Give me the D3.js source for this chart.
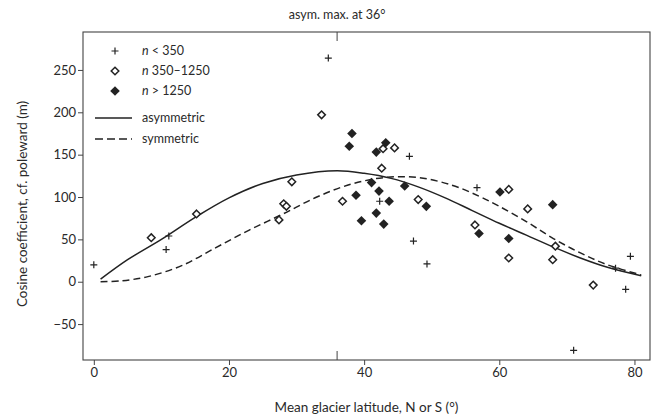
<!DOCTYPE html>
<html>
<head>
<meta charset="utf-8">
<script src="https://cdn.jsdelivr.net/npm/d3@7"></script>
<style>
  body { margin: 0; background: #fff; }
  svg text { font-family: Lato, "Open Sans", sans-serif; fill: #2a2a2a; }
</style>
</head>
<body>
<div id="chart"></div>
<script>
// Data: [latitude, coefficient]
var smallGlaciers = [
    [0, 20], [10.7, 38], [11.1, 54], [34.7, 264], [42.3, 95], [46.7, 148],
    [47.3, 48], [49.3, 21], [56.7, 111], [71, -81], [77.2, 16], [78.7, -9], [79.4, 30]
];
var mediumGlaciers = [
    [8.5, 52], [15.2, 80], [27.4, 73], [28.1, 92], [28.5, 89], [29.3, 118],
    [33.7, 197], [36.8, 95], [42.6, 134], [42.8, 157], [44.5, 158], [48, 97],
    [56.4, 67], [61.4, 109], [61.4, 28], [64.2, 86], [67.9, 26], [68.3, 42], [73.9, -4]
];
var largeGlaciers = [
    [38.2, 175], [37.8, 160], [43.2, 164], [41.8, 153], [41.1, 117], [42.2, 107],
    [46, 113], [38.8, 102], [43.7, 95], [49.2, 89], [41.8, 81], [39.6, 72],
    [42.9, 68], [57, 57], [60.1, 106], [61.4, 51], [67.9, 91]
];
// fitted curves, sampled from the figure
var asymCurve = [
    [1, 3], [5, 26], [10, 50], [15, 76], [20, 99], [25, 116], [30, 126], [36, 131],
    [40, 128], [44, 122], [48, 112], [52, 99], [56, 84], [60, 69], [64, 55],
    [68, 41], [72, 28], [76, 17], [81, 7]
];
var symCurve = [
    [1, 0], [4, 1], [8, 6], [13, 19], [18, 40], [23, 61], [28, 80], [33, 100],
    [38, 115], [43, 123], [48, 123], [53, 114], [57, 101], [60, 89], [64, 71],
    [68, 51], [72, 34], [76, 20], [81, 8]
];
var xTicks = [0, 20, 40, 60, 80];
var yTicks = [-50, 0, 50, 100, 150, 200, 250];
var asymMax = 36;
var legendItems = [
    { kind: "plus", pre: "n", label: " < 350" },
    { kind: "open", pre: "n", label: " 350\u20131250" },
    { kind: "filled", pre: "n", label: " > 1250" },
    { kind: "solid", pre: "", label: "asymmetric" },
    { kind: "dashed", pre: "", label: "symmetric" }
];

var W = 662, H = 419;
var margin = { top: 32, right: 12, bottom: 59, left: 83 };
var w = W - margin.left - margin.right,
    h = H - margin.top - margin.bottom;

var svg = d3.select("#chart").append("svg")
    .attr("width", W).attr("height", H);
var g = svg.append("g")
    .attr("transform", "translate(" + margin.left + "," + margin.top + ")");

// scales
var x = d3.scaleLinear().domain([-1.6, 82.3]).range([0, w]);
var y = d3.scaleLinear().domain([-92.4, 294.8]).range([h, 0]);

var ink = "#222";

// frame
g.append("rect")
    .attr("width", w).attr("height", h)
    .attr("fill", "none").attr("stroke", "#444").attr("stroke-width", 1.1);

// axes
var xAxis = g.append("g").attr("transform", "translate(0," + h + ")")
    .call(d3.axisBottom(x).tickValues(xTicks).tickSize(5).tickPadding(3));
var yAxis = g.append("g")
    .call(d3.axisLeft(y).tickValues(yTicks).tickSize(5).tickPadding(2)
        .tickFormat(function(d){ return d < 0 ? "\u2212" + Math.abs(d) : d; }));
[xAxis, yAxis].forEach(function(a){
    a.select(".domain").remove();
    a.selectAll("line").attr("stroke", "#444");
    a.selectAll("text").attr("font-size", 13).attr("fill", "#2a2a2a")
        .style("font-family", "Lato, sans-serif");
});

// mark for asymmetric maximum, top and bottom
g.append("line").attr("x1", x(asymMax)).attr("x2", x(asymMax))
    .attr("y1", 0).attr("y2", 9).attr("stroke", "#444");
g.append("line").attr("x1", x(asymMax)).attr("x2", x(asymMax))
    .attr("y1", h).attr("y2", h - 9).attr("stroke", "#444");
svg.append("text")
    .attr("x", margin.left + x(asymMax)).attr("y", 19)
    .attr("text-anchor", "middle").attr("font-size", 12.5)
    .text("asym. max. at 36\u00b0");

// axis titles
svg.append("text")
    .attr("x", margin.left + w / 2).attr("y", 412)
    .attr("text-anchor", "middle").attr("font-size", 13.5)
    .text("Mean glacier latitude, N or S (\u00b0)");
svg.append("text")
    .attr("transform", "translate(27," + 204 + ") rotate(-90)")
    .attr("text-anchor", "middle").attr("font-size", 13.5)
    .text("Cosine coefficient, cf. poleward (m)");

// curves
var line = d3.line()
    .x(function(d){ return x(d[0]); })
    .y(function(d){ return y(d[1]); })
    .curve(d3.curveCatmullRom.alpha(0.5));
g.append("path").datum(asymCurve).attr("d", line)
    .attr("fill", "none").attr("stroke", ink).attr("stroke-width", 1.5);
g.append("path").datum(symCurve).attr("d", line)
    .attr("fill", "none").attr("stroke", ink).attr("stroke-width", 1.5)
    .attr("stroke-dasharray", "7,4");

// marker shapes
var plusPath = "M-3.5,0H3.5M0,-3.5V3.5";
function diamond(r){ return "M0," + (-r) + "L" + r + ",0L0," + r + "L" + (-r) + ",0Z"; }

function drawMarker(sel, kind){
    if (kind === "plus") {
        sel.append("path").attr("d", plusPath)
            .attr("stroke", ink).attr("stroke-width", 1.2).attr("fill", "none");
    } else if (kind === "open") {
        sel.append("path").attr("d", diamond(3.8))
            .attr("stroke", ink).attr("stroke-width", 1.5).attr("fill", "#fff");
    } else {
        sel.append("path").attr("d", diamond(4.8)).attr("fill", ink);
    }
}

[["plus", smallGlaciers], ["open", mediumGlaciers], ["filled", largeGlaciers]].forEach(function(s){
    g.append("g").selectAll("g")
        .data(s[1])
        .enter().append("g")
        .attr("transform", function(d){ return "translate(" + x(d[0]) + "," + y(d[1]) + ")"; })
        .each(function(){ drawMarker(d3.select(this), s[0]); });
});

// legend
var legend = svg.append("g");
legendItems.forEach(function(item, i){
    var yy = i < 3 ? 51 + i * 20 : 118 + (i - 3) * 21;
    var row = legend.append("g").attr("transform", "translate(0," + yy + ")");
    if (item.kind === "solid" || item.kind === "dashed") {
        row.append("line").attr("x1", 95).attr("x2", 132)
            .attr("stroke", ink).attr("stroke-width", 1.5)
            .attr("stroke-dasharray", item.kind === "dashed" ? "8,4" : null);
    } else {
        drawMarker(row.append("g").attr("transform", "translate(115,0)"), item.kind);
    }
    var t = row.append("text").attr("x", 142).attr("dy", "0.35em").attr("font-size", 12.5);
    if (item.pre) t.append("tspan").attr("font-style", "italic").text(item.pre);
    t.append("tspan").text(item.label);
});
</script>
</body>
</html>
